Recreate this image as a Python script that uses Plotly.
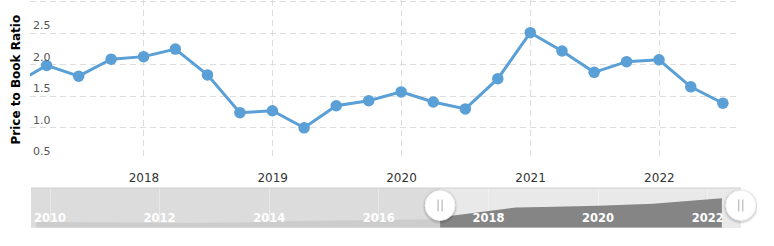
import plotly.graph_objects as go

# ---- main series: quarterly price-to-book ratio ----
dates = ["2016-12-31", "2017-03-31", "2017-06-30", "2017-09-30", "2017-12-31",
         "2018-03-31", "2018-06-30", "2018-09-30", "2018-12-31",
         "2019-03-31", "2019-06-30", "2019-09-30", "2019-12-31",
         "2020-03-31", "2020-06-30", "2020-09-30", "2020-12-31",
         "2021-03-31", "2021-06-30", "2021-09-30", "2021-12-31",
         "2022-03-31", "2022-06-30"]
pb_ratio = [1.70, 1.99, 1.82, 2.09, 2.13,
            2.25, 1.84, 1.24, 1.27,
            1.00, 1.35, 1.43, 1.57,
            1.41, 1.30, 1.78, 2.51,
            2.22, 1.88, 2.05, 2.08,
            1.65, 1.39]

# ---- navigator series (full history, arbitrary units) ----
nav_dates = ["2009-09-30", "2010-06-30", "2011-06-30", "2012-06-30", "2013-06-30",
             "2014-06-30", "2015-06-30", "2016-06-30", "2016-12-31", "2017-02-12",
             "2017-06-30", "2018-01-01", "2018-07-01", "2019-01-01", "2020-01-01",
             "2021-01-01", "2022-01-01", "2022-04-05"]
nav_values = [5.7, 5.7, 5.3, 4.8, 5.2,
              6.8, 7.2, 7.7, 8.5, 10.4,
              13.0, 17.0, 20.2, 20.8, 22.0,
              24.0, 28.5, 29.4]

# ---- axes / labels ----
view_range = ["2017-02-12", "2022-08-09"]
nav_start = "2009-08-27"
nav_axis_range = [nav_start, "2022-11-25"]   # extra room on the right for the handle
y_tickvals = [0.5, 1.0, 1.5, 2.0, 2.5, 3.0]
y_ticktext = ["0.5", "1.0", "1.5", "2.0", "2.5", ""]
y_range = [0.5, 3.029]
y_title = "Price to Book Ratio"

W, H = 774, 246
def fx(px):
    return px / W
def fy(py):
    return 1 - py / H

LINE = "#5a9fd5"
FONT = "DejaVu Sans, Verdana, sans-serif"

fig = go.Figure()

fig.add_trace(go.Scatter(
    x=dates, y=pb_ratio, mode="lines+markers",
    line=dict(color=LINE, width=3),
    marker=dict(color=LINE, size=11.5),
    xaxis="x", yaxis="y", showlegend=False, hoverinfo="x+y"))

# navigator: unselected (light) and selected (dark) parts
start = view_range[0]
left_d = [d for d in nav_dates if d <= start]
left_v = [v for d, v in zip(nav_dates, nav_values) if d <= start]
right_d = [d for d in nav_dates if d >= start]
right_v = [v for d, v in zip(nav_dates, nav_values) if d >= start]

fig.add_trace(go.Scatter(
    x=left_d, y=left_v, mode="lines", fill="tozeroy",
    line=dict(color="#cccccc", width=0), fillcolor="#cccccc",
    xaxis="x2", yaxis="y2", showlegend=False, hoverinfo="skip"))
fig.add_trace(go.Scatter(
    x=right_d, y=right_v, mode="lines", fill="tozeroy",
    line=dict(color="#858585", width=0), fillcolor="#858585",
    xaxis="x2", yaxis="y2", showlegend=False, hoverinfo="skip"))

shapes = [
    dict(type="rect", xref="x2", yref="y2 domain", x0=nav_start, x1=view_range[1],
         y0=0, y1=1, fillcolor="#dcdcdc", line=dict(width=0), layer="below"),
    dict(type="rect", xref="x2", yref="y2 domain", x0=view_range[0], x1=view_range[1],
         y0=0, y1=1, fillcolor="#e9e9e9", line=dict(width=0), layer="below"),
    dict(type="line", xref="x2", yref="y2 domain", x0=nav_start, x1=view_range[1],
         y0=1, y1=1, line=dict(color="#cfcfcf", width=1), layer="above"),
]
for d in view_range:
    for grow, alpha in ((2.5, 0.05), (1.2, 0.10)):
        shapes.append(dict(type="circle", xref="x2", yref="y2 domain",
                           xsizemode="pixel", ysizemode="pixel", xanchor=d, yanchor=0.56,
                           x0=-15 - grow, x1=15 + grow, y0=-16 - grow, y1=14 + grow,
                           fillcolor="rgba(0,0,0,%.2f)" % alpha, line=dict(width=0),
                           layer="above"))
    shapes.append(dict(type="circle", xref="x2", yref="y2 domain",
                       xsizemode="pixel", ysizemode="pixel", xanchor=d, yanchor=0.56,
                       x0=-15, x1=15, y0=-15, y1=15,
                       fillcolor="#ffffff", line=dict(color="#f2f2f2", width=1), layer="above"))
    for dx in (-2, 2):
        shapes.append(dict(type="line", xref="x2", yref="y2 domain",
                           xsizemode="pixel", ysizemode="pixel", xanchor=d, yanchor=0.56,
                           x0=dx, x1=dx, y0=-6, y1=6,
                           line=dict(color="#aaaaaa", width=1), layer="above"))

fig.update_layout(
    width=W, height=H,
    margin=dict(l=0, r=0, t=0, b=0),
    paper_bgcolor="white", plot_bgcolor="rgba(0,0,0,0)",
    font=dict(family=FONT, color="#333333"),
    showlegend=False,
    shapes=shapes,
    xaxis=dict(
        type="date", range=view_range, domain=[fx(30), fx(737)],
        anchor="y", tick0="2018-01-01", dtick="M12", tickformat="%Y",
        showgrid=True, gridcolor="#dddddd", griddash="6px,4px", gridwidth=1,
        showline=False, zeroline=False, ticks="", ticklabelstandoff=10,
        tickfont=dict(size=12, color="#333333", family=FONT),
        automargin=False, fixedrange=True),
    yaxis=dict(
        range=y_range, domain=[fy(159.3), 1.0], anchor="x",
        tickvals=y_tickvals, ticktext=y_ticktext,
        ticklabelposition="inside top",
        showgrid=True, gridcolor="#dddddd", griddash="6px,4px", gridwidth=1,
        showline=False, zeroline=False, ticks="",
        tickfont=dict(size=11, color="#555555", family=FONT),
        title=dict(text=y_title, font=dict(size=12, color="#000000",
                   family="DejaVu Sans, Verdana, sans-serif", weight="bold"), standoff=9),
        automargin=False, fixedrange=True),
    xaxis2=dict(
        type="date", range=nav_axis_range, domain=[fx(31), fx(757)],
        anchor="y2", tick0="2010-01-01", dtick="M24", tickformat="%Y",
        showgrid=True, gridcolor="rgba(255,255,255,0.35)", gridwidth=1,
        showline=False, zeroline=False, ticks="", ticklabelposition="inside",
        tickfont=dict(size=11.5, color="#ffffff", family=FONT, weight="bold"),
        automargin=False, fixedrange=True, layer="above traces"),
    yaxis2=dict(
        range=[0, 39.7], domain=[fy(227.7), fy(188)], anchor="x2",
        visible=False, showgrid=False, fixedrange=True),
)

fig.write_html("out.html")
